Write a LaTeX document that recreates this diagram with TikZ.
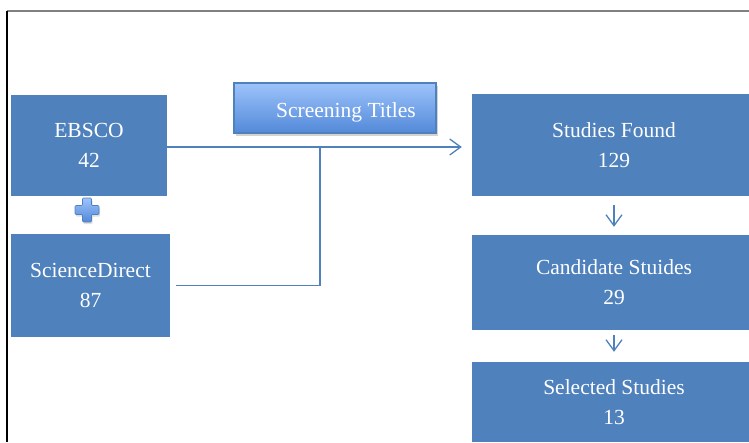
\documentclass[tikz,border=0pt]{standalone}
\usepackage{fontspec}
\setmainfont{Liberation Serif}
\usetikzlibrary{arrows.meta,shadows}

\definecolor{boxblue}{HTML}{4F81BD}
\definecolor{topblue}{HTML}{9DC3FB}
\definecolor{lowblue}{HTML}{5389D9}

\tikzset{
  dbbox/.style={fill=boxblue, text=white, align=center, inner sep=0pt,
    font=\fontsize{21.5}{30}\selectfont},
  screenbox/.style={top color=topblue, bottom color=lowblue, draw=boxblue,
    line width=1.2pt, text=white, inner sep=0pt,
    font=\fontsize{21.5}{30}\selectfont,
    drop shadow={opacity=0.35, shadow xshift=2pt, shadow yshift=-3pt}},
  link/.style={draw=boxblue, line width=1.3pt},
  tip/.style={-{Straight Barb[length=11pt,width=16pt]}}
}

\begin{document}
\begin{tikzpicture}[x=1pt,y=-1pt]

        \clip (0,0) rectangle (749,442);

        % Frame
        \draw[gray, line width=1.2pt] (7,11) -- (749,11);
        \draw[black, line width=1.2pt] (7,11) -- (7,442);

        % Databases
        \node[dbbox, minimum width=156, minimum height=101] (ebsco) at (89,145.5) {EBSCO\\42};
        \node[dbbox, minimum width=159, minimum height=103] (sd) at (90.5,285.5) {ScienceDirect\\87};

        % Plus sign between the databases
        \path[top color=topblue, bottom color=lowblue, draw=boxblue, line width=0.6pt,
              rounded corners=1pt,
              drop shadow={opacity=0.25, shadow xshift=1pt, shadow yshift=-2pt}]
          (82.5,198) -- (91.5,198) -- (91.5,205.5) -- (99,205.5) -- (99,214.5)
          -- (91.5,214.5) -- (91.5,222) -- (82.5,222) -- (82.5,214.5)
          -- (75,214.5) -- (75,205.5) -- (82.5,205.5) -- cycle;

        % Screening step
        \node[screenbox, minimum width=202, minimum height=50] (screen) at (335,108)
          {\raisebox{-4pt}[\height][\depth]{\hspace*{22pt}Screening Titles}};

        % Results
        \node[dbbox, minimum width=284, minimum height=102] (found) at (614,145) {Studies Found\\129};
        \node[dbbox, minimum width=284, minimum height=95] (cand) at (614,282.5) {Candidate Stuides\\29};
        \node[dbbox, minimum width=284, minimum height=80] (sel) at (614,402) {Selected Studies\\13};

        % Connectors
        \coordinate (join) at (320,147);
        \draw[link, tip, shorten >=10pt] (ebsco.east |- join) -- (join -| found.west);
        \draw[link] ([xshift=6pt]sd.east) -| (join);
        \draw[link, tip, shorten <=9pt, shorten >=8pt] (found) -- (cand);
        \draw[link, tip, shorten <=5pt, shorten >=10pt] (cand) -- (sel);

\end{tikzpicture}
\end{document}
